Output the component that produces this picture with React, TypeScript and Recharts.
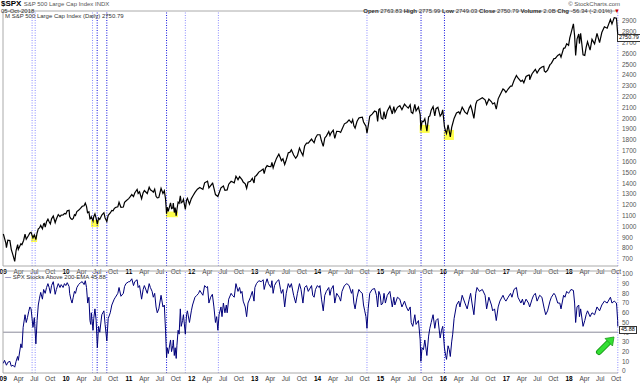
import { LineChart, Line, XAxis, YAxis, ReferenceLine, ReferenceArea } from "recharts";

// S&P 500 closes (date, close)
const spxCloses: [string, number][] = [
  ["2009-01-02", 931], ["2009-01-09", 890], ["2009-01-16", 850], ["2009-01-20", 805], ["2009-01-28", 874],
  ["2009-02-09", 870], ["2009-02-17", 789], ["2009-02-27", 735], ["2009-03-09", 677], ["2009-03-17", 778],
  ["2009-03-26", 832], ["2009-03-30", 788], ["2009-04-14", 841], ["2009-04-20", 832], ["2009-04-30", 873],
  ["2009-05-08", 929], ["2009-05-15", 882], ["2009-05-29", 919], ["2009-06-05", 940], ["2009-06-12", 946],
  ["2009-06-23", 895], ["2009-07-01", 923], ["2009-07-10", 879], ["2009-07-17", 940], ["2009-07-24", 979],
  ["2009-07-31", 987], ["2009-08-07", 1010], ["2009-08-17", 979], ["2009-08-24", 1025], ["2009-08-28", 1029],
  ["2009-09-02", 995], ["2009-09-10", 1044], ["2009-09-18", 1068], ["2009-09-25", 1044], ["2009-10-02", 1025],
  ["2009-10-09", 1071], ["2009-10-19", 1097], ["2009-10-30", 1036], ["2009-11-06", 1069], ["2009-11-17", 1110],
  ["2009-11-27", 1091], ["2009-12-04", 1105], ["2009-12-15", 1108], ["2009-12-23", 1120], ["2009-12-31", 1115],
  ["2010-01-08", 1145], ["2010-01-19", 1150], ["2010-01-22", 1092], ["2010-01-29", 1074], ["2010-02-05", 1066],
  ["2010-02-12", 1075], ["2010-02-19", 1109], ["2010-02-25", 1102], ["2010-03-05", 1138], ["2010-03-15", 1150],
  ["2010-03-26", 1167], ["2010-04-05", 1187], ["2010-04-16", 1192], ["2010-04-23", 1217], ["2010-04-30", 1187],
  ["2010-05-06", 1128], ["2010-05-14", 1136], ["2010-05-20", 1071], ["2010-05-25", 1074], ["2010-05-28", 1089],
  ["2010-06-07", 1050], ["2010-06-11", 1091], ["2010-06-18", 1117], ["2010-06-25", 1076], ["2010-07-02", 1022],
  ["2010-07-09", 1078], ["2010-07-16", 1065], ["2010-07-28", 1106], ["2010-08-09", 1128], ["2010-08-16", 1079],
  ["2010-08-26", 1047], ["2010-09-03", 1104], ["2010-09-15", 1125], ["2010-09-24", 1148], ["2010-10-01", 1146],
  ["2010-10-08", 1165], ["2010-10-15", 1176], ["2010-10-29", 1183], ["2010-11-05", 1225], ["2010-11-16", 1178],
  ["2010-11-30", 1180], ["2010-12-07", 1223], ["2010-12-15", 1236], ["2010-12-31", 1258],
  ["2011-01-07", 1271], ["2011-01-18", 1295], ["2011-01-28", 1276], ["2011-02-04", 1310], ["2011-02-18", 1343],
  ["2011-02-24", 1306], ["2011-03-04", 1321], ["2011-03-16", 1257], ["2011-03-25", 1313], ["2011-04-01", 1332],
  ["2011-04-18", 1305], ["2011-04-29", 1364], ["2011-05-06", 1340], ["2011-05-16", 1329], ["2011-05-23", 1317],
  ["2011-05-31", 1345], ["2011-06-08", 1279], ["2011-06-15", 1265], ["2011-06-24", 1268], ["2011-07-07", 1353],
  ["2011-07-18", 1305], ["2011-07-26", 1331], ["2011-08-02", 1254], ["2011-08-08", 1119], ["2011-08-12", 1178],
  ["2011-08-18", 1140], ["2011-08-31", 1219], ["2011-09-06", 1166], ["2011-09-13", 1172], ["2011-09-16", 1216],
  ["2011-09-22", 1129], ["2011-09-27", 1175], ["2011-10-03", 1099], ["2011-10-07", 1155], ["2011-10-14", 1225],
  ["2011-10-20", 1215], ["2011-10-27", 1284], ["2011-11-01", 1218], ["2011-11-09", 1229], ["2011-11-14", 1251],
  ["2011-11-25", 1158], ["2011-12-02", 1244], ["2011-12-07", 1261], ["2011-12-19", 1206], ["2011-12-30", 1258],
  ["2012-01-06", 1278], ["2012-01-20", 1315], ["2012-02-03", 1345], ["2012-02-17", 1361], ["2012-03-06", 1343],
  ["2012-03-16", 1404], ["2012-04-02", 1419], ["2012-04-10", 1358], ["2012-04-30", 1398], ["2012-05-01", 1405],
  ["2012-05-09", 1354], ["2012-05-18", 1295], ["2012-06-01", 1278], ["2012-06-19", 1357], ["2012-07-03", 1374],
  ["2012-07-12", 1334], ["2012-07-25", 1338], ["2012-08-03", 1391], ["2012-08-17", 1418], ["2012-09-04", 1404],
  ["2012-09-14", 1465], ["2012-09-26", 1433], ["2012-10-05", 1461], ["2012-10-19", 1433], ["2012-10-26", 1411],
  ["2012-11-07", 1394], ["2012-11-15", 1353], ["2012-11-23", 1409], ["2012-12-07", 1418], ["2012-12-18", 1446],
  ["2012-12-28", 1402],
  ["2013-01-02", 1462], ["2013-01-11", 1472], ["2013-01-25", 1503], ["2013-02-08", 1518], ["2013-02-19", 1531],
  ["2013-02-25", 1488], ["2013-03-05", 1540], ["2013-03-14", 1563], ["2013-03-22", 1556], ["2013-04-05", 1553],
  ["2013-04-11", 1593], ["2013-04-18", 1541], ["2013-04-26", 1582], ["2013-05-08", 1632], ["2013-05-21", 1669],
  ["2013-05-31", 1631], ["2013-06-05", 1608], ["2013-06-14", 1626], ["2013-06-24", 1573], ["2013-07-03", 1615],
  ["2013-07-15", 1682], ["2013-07-24", 1685], ["2013-08-02", 1709], ["2013-08-15", 1661], ["2013-08-27", 1631],
  ["2013-09-06", 1655], ["2013-09-18", 1725], ["2013-09-27", 1691], ["2013-10-08", 1656], ["2013-10-18", 1744],
  ["2013-10-29", 1771], ["2013-11-08", 1770], ["2013-11-27", 1808], ["2013-12-04", 1792], ["2013-12-12", 1775],
  ["2013-12-20", 1818], ["2013-12-31", 1848],
  ["2014-01-15", 1848], ["2014-01-24", 1790], ["2014-02-03", 1741], ["2014-02-12", 1819], ["2014-02-21", 1836],
  ["2014-03-07", 1878], ["2014-03-14", 1841], ["2014-03-21", 1866], ["2014-04-02", 1890], ["2014-04-11", 1815],
  ["2014-04-22", 1879], ["2014-05-07", 1878], ["2014-05-15", 1870], ["2014-05-23", 1900], ["2014-06-06", 1949],
  ["2014-06-20", 1962], ["2014-07-03", 1985], ["2014-07-17", 1958], ["2014-07-24", 1988], ["2014-07-31", 1931],
  ["2014-08-07", 1910], ["2014-08-18", 1971], ["2014-08-29", 2003], ["2014-09-05", 2007], ["2014-09-18", 2011],
  ["2014-09-25", 1966], ["2014-10-02", 1946], ["2014-10-09", 1928], ["2014-10-15", 1862], ["2014-10-22", 1927],
  ["2014-10-31", 2018], ["2014-11-14", 2039], ["2014-11-28", 2067], ["2014-12-09", 2059], ["2014-12-16", 1972],
  ["2014-12-23", 2082], ["2014-12-29", 2090],
  ["2015-01-06", 2003], ["2015-01-15", 1992], ["2015-01-22", 2063], ["2015-01-30", 1995], ["2015-02-10", 2068],
  ["2015-02-25", 2113], ["2015-03-11", 2040], ["2015-03-20", 2108], ["2015-03-26", 2056], ["2015-04-10", 2102],
  ["2015-04-24", 2117], ["2015-05-06", 2080], ["2015-05-21", 2131], ["2015-06-01", 2111], ["2015-06-12", 2094],
  ["2015-06-23", 2124], ["2015-06-29", 2057], ["2015-07-08", 2046], ["2015-07-20", 2128], ["2015-07-27", 2068],
  ["2015-08-10", 2104], ["2015-08-20", 2035], ["2015-08-24", 1893], ["2015-08-31", 1972], ["2015-09-08", 1969],
  ["2015-09-16", 1996], ["2015-09-28", 1881], ["2015-10-08", 2013], ["2015-10-15", 2023], ["2015-10-23", 2075],
  ["2015-11-03", 2109], ["2015-11-13", 2023], ["2015-11-20", 2089], ["2015-12-01", 2103], ["2015-12-14", 2021],
  ["2015-12-22", 2038], ["2015-12-29", 2078],
  ["2016-01-08", 1922], ["2016-01-15", 1880], ["2016-01-20", 1859], ["2016-01-29", 1940], ["2016-02-05", 1880],
  ["2016-02-11", 1829], ["2016-02-19", 1917], ["2016-02-25", 1952], ["2016-03-04", 1999], ["2016-03-18", 2050],
  ["2016-03-31", 2060], ["2016-04-07", 2041], ["2016-04-20", 2102], ["2016-05-06", 2057], ["2016-05-19", 2040],
  ["2016-05-31", 2097], ["2016-06-08", 2119], ["2016-06-16", 2077], ["2016-06-27", 2000], ["2016-07-08", 2130],
  ["2016-07-15", 2162], ["2016-07-29", 2174], ["2016-08-15", 2190], ["2016-08-31", 2171], ["2016-09-09", 2128],
  ["2016-09-22", 2177], ["2016-10-07", 2153], ["2016-10-14", 2133], ["2016-10-25", 2143], ["2016-11-04", 2085],
  ["2016-11-15", 2180], ["2016-11-25", 2213], ["2016-12-13", 2271], ["2016-12-22", 2260], ["2016-12-30", 2239],
  ["2017-01-12", 2271], ["2017-01-26", 2298], ["2017-02-03", 2297], ["2017-02-15", 2349], ["2017-03-01", 2396],
  ["2017-03-10", 2373], ["2017-03-27", 2341], ["2017-04-05", 2352], ["2017-04-13", 2329], ["2017-04-26", 2387],
  ["2017-05-10", 2399], ["2017-05-16", 2400], ["2017-05-17", 2357], ["2017-05-31", 2412], ["2017-06-09", 2432],
  ["2017-06-19", 2453], ["2017-06-29", 2419], ["2017-07-14", 2459], ["2017-07-27", 2475], ["2017-08-07", 2480],
  ["2017-08-10", 2438], ["2017-08-18", 2426], ["2017-08-29", 2446], ["2017-09-12", 2496], ["2017-09-20", 2508],
  ["2017-10-05", 2552], ["2017-10-13", 2553], ["2017-10-27", 2581], ["2017-11-08", 2594], ["2017-11-15", 2565],
  ["2017-11-30", 2647], ["2017-12-08", 2651], ["2017-12-18", 2690], ["2017-12-29", 2674],
  ["2018-01-05", 2743], ["2018-01-12", 2786], ["2018-01-26", 2873], ["2018-02-02", 2762], ["2018-02-08", 2581],
  ["2018-02-16", 2732], ["2018-02-26", 2780], ["2018-03-02", 2691], ["2018-03-09", 2786], ["2018-03-23", 2588],
  ["2018-04-02", 2582], ["2018-04-10", 2656], ["2018-04-18", 2708], ["2018-05-03", 2630], ["2018-05-14", 2730],
  ["2018-05-29", 2689], ["2018-06-12", 2786], ["2018-06-27", 2700], ["2018-07-10", 2793], ["2018-07-25", 2846],
  ["2018-08-10", 2833], ["2018-08-29", 2914], ["2018-09-07", 2872], ["2018-09-20", 2931], ["2018-10-03", 2926],
  ["2018-10-05", 2885], ["2018-10-10", 2785], ["2018-10-11", 2751],
];

// % of S&P 500 stocks above their 200-day EMA, lower panel
const breadth: [string, number][] = [
  ["2009-01-02", 8], ["2009-01-09", 11], ["2009-01-20", 6], ["2009-01-28", 9], ["2009-02-09", 10],
  ["2009-02-17", 5], ["2009-02-27", 6], ["2009-03-09", 4], ["2009-03-17", 10], ["2009-03-26", 15],
  ["2009-03-30", 11], ["2009-04-14", 28], ["2009-04-20", 24], ["2009-04-27", 45], ["2009-05-08", 58],
  ["2009-05-15", 50], ["2009-05-22", 55], ["2009-05-29", 61], ["2009-06-05", 66], ["2009-06-12", 64],
  ["2009-06-23", 45], ["2009-07-01", 55], ["2009-07-10", 28], ["2009-07-17", 52], ["2009-07-24", 68],
  ["2009-07-31", 75], ["2009-08-07", 81], ["2009-08-17", 74], ["2009-08-24", 84], ["2009-09-02", 80],
  ["2009-09-10", 86], ["2009-09-18", 90], ["2009-09-25", 86], ["2009-10-02", 80], ["2009-10-09", 88],
  ["2009-10-19", 92], ["2009-10-30", 79], ["2009-11-06", 84], ["2009-11-17", 90], ["2009-11-27", 86],
  ["2009-12-04", 89], ["2009-12-15", 86], ["2009-12-23", 90], ["2009-12-31", 88],
  ["2010-01-08", 91], ["2010-01-19", 87], ["2010-01-22", 80], ["2010-01-29", 74], ["2010-02-05", 70],
  ["2010-02-12", 76], ["2010-02-19", 82], ["2010-02-25", 80], ["2010-03-05", 86], ["2010-03-15", 89],
  ["2010-03-26", 91], ["2010-04-05", 92], ["2010-04-16", 89], ["2010-04-23", 93], ["2010-04-30", 86],
  ["2010-05-07", 70], ["2010-05-14", 76], ["2010-05-20", 52], ["2010-05-25", 48], ["2010-05-28", 60],
  ["2010-06-07", 42], ["2010-06-11", 54], ["2010-06-18", 64], ["2010-06-25", 52], ["2010-07-02", 24],
  ["2010-07-09", 46], ["2010-07-16", 40], ["2010-07-28", 58], ["2010-08-09", 62], ["2010-08-16", 48],
  ["2010-08-26", 31], ["2010-09-03", 54], ["2010-09-15", 60], ["2010-09-24", 68], ["2010-10-08", 74],
  ["2010-10-15", 76], ["2010-10-29", 80], ["2010-11-05", 86], ["2010-11-16", 77], ["2010-11-30", 80],
  ["2010-12-07", 87], ["2010-12-15", 90], ["2010-12-31", 92],
  ["2011-01-07", 92], ["2011-01-18", 95], ["2011-01-28", 88], ["2011-02-04", 92], ["2011-02-18", 94],
  ["2011-02-24", 86], ["2011-03-04", 88], ["2011-03-16", 74], ["2011-03-25", 84], ["2011-04-01", 88],
  ["2011-04-18", 80], ["2011-04-29", 90], ["2011-05-06", 86], ["2011-05-16", 82], ["2011-05-23", 76],
  ["2011-05-31", 80], ["2011-06-08", 66], ["2011-06-15", 60], ["2011-06-24", 64], ["2011-07-07", 78],
  ["2011-07-18", 66], ["2011-07-26", 68], ["2011-08-02", 42], ["2011-08-08", 14], ["2011-08-12", 24],
  ["2011-08-18", 18], ["2011-08-31", 32], ["2011-09-06", 20], ["2011-09-13", 26], ["2011-09-16", 32],
  ["2011-09-22", 16], ["2011-09-27", 24], ["2011-10-03", 13], ["2011-10-07", 26], ["2011-10-14", 42],
  ["2011-10-20", 38], ["2011-10-27", 64], ["2011-11-01", 46], ["2011-11-09", 52], ["2011-11-14", 58],
  ["2011-11-25", 38], ["2011-12-02", 58], ["2011-12-07", 62], ["2011-12-19", 50], ["2011-12-30", 62],
  ["2012-01-06", 68], ["2012-01-20", 76], ["2012-01-31", 78], ["2012-02-10", 80], ["2012-02-17", 83],
  ["2012-03-06", 78], ["2012-03-16", 88], ["2012-03-26", 86], ["2012-04-02", 87], ["2012-04-10", 70],
  ["2012-04-20", 76], ["2012-04-30", 79], ["2012-05-09", 66], ["2012-05-18", 50], ["2012-05-25", 56],
  ["2012-06-01", 42], ["2012-06-08", 58], ["2012-06-19", 66], ["2012-06-25", 56], ["2012-07-03", 70],
  ["2012-07-12", 60], ["2012-07-20", 68], ["2012-07-25", 60], ["2012-08-03", 74], ["2012-08-17", 80],
  ["2012-08-24", 78], ["2012-09-04", 76], ["2012-09-14", 90], ["2012-09-26", 82], ["2012-10-05", 86],
  ["2012-10-12", 80], ["2012-10-19", 82], ["2012-10-26", 72], ["2012-11-07", 66], ["2012-11-15", 56],
  ["2012-11-23", 70], ["2012-12-07", 76], ["2012-12-18", 82], ["2012-12-28", 72],
  ["2013-01-02", 86], ["2013-01-11", 90], ["2013-01-25", 93], ["2013-02-08", 92], ["2013-02-19", 94],
  ["2013-02-25", 84], ["2013-03-05", 90], ["2013-03-14", 95], ["2013-03-22", 90], ["2013-04-05", 86],
  ["2013-04-11", 93], ["2013-04-18", 80], ["2013-04-26", 88], ["2013-05-08", 92], ["2013-05-21", 94],
  ["2013-05-31", 84], ["2013-06-05", 80], ["2013-06-14", 84], ["2013-06-24", 66], ["2013-07-03", 80],
  ["2013-07-15", 90], ["2013-07-24", 86], ["2013-08-02", 90], ["2013-08-15", 78], ["2013-08-27", 70],
  ["2013-09-06", 80], ["2013-09-18", 90], ["2013-09-27", 84], ["2013-10-08", 70], ["2013-10-18", 86],
  ["2013-10-29", 88], ["2013-11-08", 82], ["2013-11-27", 88], ["2013-12-04", 78], ["2013-12-12", 76],
  ["2013-12-20", 84], ["2013-12-31", 88],
  ["2014-01-10", 86], ["2014-01-15", 88], ["2014-01-24", 74], ["2014-02-03", 62], ["2014-02-12", 78],
  ["2014-02-21", 82], ["2014-03-07", 86], ["2014-03-14", 78], ["2014-03-21", 84], ["2014-04-02", 88],
  ["2014-04-11", 70], ["2014-04-22", 80], ["2014-05-07", 76], ["2014-05-15", 72], ["2014-05-23", 82],
  ["2014-06-06", 88], ["2014-06-20", 90], ["2014-07-03", 88], ["2014-07-17", 80], ["2014-07-24", 84],
  ["2014-07-31", 70], ["2014-08-07", 64], ["2014-08-18", 76], ["2014-08-29", 84], ["2014-09-05", 82],
  ["2014-09-18", 80], ["2014-09-25", 68], ["2014-10-02", 62], ["2014-10-09", 56], ["2014-10-15", 44],
  ["2014-10-22", 64], ["2014-10-31", 80], ["2014-11-14", 84], ["2014-11-28", 85], ["2014-12-09", 78],
  ["2014-12-16", 66], ["2014-12-23", 82], ["2014-12-31", 78],
  ["2015-01-06", 68], ["2015-01-15", 70], ["2015-01-22", 80], ["2015-01-30", 70], ["2015-02-10", 78],
  ["2015-02-25", 82], ["2015-03-11", 66], ["2015-03-20", 76], ["2015-03-26", 68], ["2015-04-10", 76],
  ["2015-04-24", 74], ["2015-05-06", 66], ["2015-05-21", 72], ["2015-06-01", 66], ["2015-06-12", 62],
  ["2015-06-23", 66], ["2015-06-29", 50], ["2015-07-08", 46], ["2015-07-20", 58], ["2015-07-27", 48],
  ["2015-08-10", 52], ["2015-08-20", 32], ["2015-08-24", 10], ["2015-08-31", 24], ["2015-09-08", 22],
  ["2015-09-16", 32], ["2015-09-28", 16], ["2015-10-08", 36], ["2015-10-15", 44], ["2015-10-23", 50],
  ["2015-11-03", 58], ["2015-11-13", 44], ["2015-11-20", 52], ["2015-12-01", 54], ["2015-12-14", 34],
  ["2015-12-22", 42], ["2015-12-29", 46],
  ["2016-01-08", 24], ["2016-01-15", 16], ["2016-01-20", 12], ["2016-01-29", 26], ["2016-02-05", 22],
  ["2016-02-11", 15], ["2016-02-19", 30], ["2016-02-25", 38], ["2016-03-04", 54], ["2016-03-18", 68],
  ["2016-03-31", 72], ["2016-04-07", 66], ["2016-04-20", 78], ["2016-05-06", 70], ["2016-05-19", 64],
  ["2016-05-31", 74], ["2016-06-08", 80], ["2016-06-16", 70], ["2016-06-27", 58], ["2016-07-08", 80],
  ["2016-07-15", 86], ["2016-07-29", 82], ["2016-08-15", 84], ["2016-08-31", 78], ["2016-09-09", 64],
  ["2016-09-22", 76], ["2016-10-07", 68], ["2016-10-14", 62], ["2016-10-25", 64], ["2016-11-04", 52],
  ["2016-11-15", 66], ["2016-11-25", 72], ["2016-12-13", 78], ["2016-12-22", 74], ["2016-12-30", 72],
  ["2017-01-12", 76], ["2017-01-26", 80], ["2017-02-03", 76], ["2017-02-15", 84], ["2017-03-01", 86],
  ["2017-03-10", 76], ["2017-03-27", 70], ["2017-04-05", 74], ["2017-04-13", 68], ["2017-04-26", 74],
  ["2017-05-10", 70], ["2017-05-17", 66], ["2017-05-31", 74], ["2017-06-09", 78], ["2017-06-19", 80],
  ["2017-06-29", 72], ["2017-07-14", 78], ["2017-07-27", 76], ["2017-08-10", 64], ["2017-08-18", 58],
  ["2017-08-29", 62], ["2017-09-12", 72], ["2017-09-20", 76], ["2017-10-05", 80], ["2017-10-13", 78],
  ["2017-10-27", 70], ["2017-11-08", 70], ["2017-11-15", 64], ["2017-11-30", 78], ["2017-12-08", 76],
  ["2017-12-18", 82], ["2017-12-29", 80],
  ["2018-01-05", 82], ["2018-01-12", 84], ["2018-01-26", 83], ["2018-02-02", 70], ["2018-02-08", 50],
  ["2018-02-16", 66], ["2018-02-26", 68], ["2018-03-02", 56], ["2018-03-09", 64], ["2018-03-23", 46],
  ["2018-04-02", 52], ["2018-04-10", 58], ["2018-04-18", 62], ["2018-05-03", 56], ["2018-05-14", 60],
  ["2018-05-29", 58], ["2018-06-12", 66], ["2018-06-27", 62], ["2018-07-10", 68], ["2018-07-25", 72],
  ["2018-08-10", 70], ["2018-08-29", 76], ["2018-09-07", 70], ["2018-09-20", 72], ["2018-10-03", 70],
  ["2018-10-05", 66], ["2018-10-10", 52], ["2018-10-11", 45.88],
];

const yearLabels = ["09", "10", "11", "12", "13", "14", "15", "16", "17", "18"];
const quarterStarts = ["01", "04", "07", "10"];
const MONTHS = ["Jan", "Feb", "Mar", "Apr", "May", "Jun", "Jul", "Aug", "Sep", "Oct", "Nov", "Dec"];
const priceTicks = [700, 800, 900, 1000, 1100, 1200, 1300, 1400, 1500, 1600, 1700, 1800, 1900, 2000, 2100, 2200, 2300, 2400, 2500, 2600, 2700, 2800, 2900];
const breadthTicks = [0, 10, 20, 30, 40, 50, 60, 70, 80, 90, 100];

// dotted vertical markers
const lightMarkers = ["2009-06-18", "2009-07-06", "2010-06-04", "2011-11-25", "2012-06-04", "2014-10-15", "2018-10-11"];
const darkMarkers = ["2010-07-01", "2010-08-26", "2011-08-08", "2015-08-25", "2016-01-08"];

// yellow highlights around the price lows
const lowZones = [
  { from: "2009-06-12", to: "2009-07-17", low: 857, high: 922 },
  { from: "2010-05-26", to: "2010-07-11", low: 996, high: 1060 },
  { from: "2011-08-04", to: "2011-10-13", low: 1086, high: 1138 },
  { from: "2015-08-17", to: "2015-10-14", low: 1865, high: 1939 },
  { from: "2016-01-04", to: "2016-03-03", low: 1800, high: 1893 },
];

const t = (s: string) => Date.parse(s + "T00:00:00Z");
const START = t("2008-12-31");
const END = t("2018-10-12");
const FONT = "'Liberation Sans', Arial, sans-serif";

const priceData = spxCloses.map(([d, v]) => ({ t: t(d), v })).sort((a, b) => a.t - b.t);
const breadthData = breadth.map(([d, v]) => ({ t: t(d), v })).sort((a, b) => a.t - b.t);
const dateTicks = yearLabels
  .flatMap((yy) => quarterStarts.map((mm) => t(`20${yy}-${mm}-01`)))
  .filter((v) => v <= END);

function DateTick(props: any) {
  const { x, y, payload } = props;
  const d = new Date(payload.value);
  const m = d.getUTCMonth();
  const isYear = m === 0;
  return (
    <text
      x={x}
      y={y + 6}
      textAnchor="middle"
      fontSize={6.5}
      fontFamily={FONT}
      fontWeight={isYear ? 700 : 400}
      fill={isYear ? "#000" : "#444"}
    >
      {isYear ? String(d.getUTCFullYear()).slice(2) : MONTHS[m]}
    </text>
  );
}

const yTick = { fontSize: 6.5, fill: "#555", fontFamily: FONT };

function markers(top: number) {
  return [
    ...lightMarkers.map((d) => (
      <ReferenceLine key={"l" + d} x={t(d)} stroke="#8c8cff" strokeDasharray="1 1.5" strokeWidth={1} />
    )),
    ...darkMarkers.map((d) => (
      <ReferenceLine key={"d" + d} x={t(d)} stroke="#1010e0" strokeDasharray="1 1.5" strokeWidth={1} />
    )),
    <ReferenceLine key="left" x={START} stroke="#aaa" />,
    <ReferenceLine key="top" y={top} stroke="#aaa" />,
  ];
}

const small = { position: "absolute" as const, fontFamily: FONT, whiteSpace: "nowrap" as const, lineHeight: 1 };

export default function App() {
  return (
    <div style={{ position: "absolute", left: 0, top: 0, width: 640, height: 383, background: "#fff", overflow: "hidden" }}>
      {/* upper panel: price */}
      <div style={{ position: "absolute", left: 0, top: 0 }}>
        <LineChart width={640} height={276} data={priceData} margin={{ top: 11, right: 0, left: 3, bottom: 0 }}>
          <XAxis
            dataKey="t"
            type="number"
            domain={[START, END]}
            ticks={dateTicks}
            tick={<DateTick />}
            tickLine={false}
            tickSize={0}
            height={10}
            axisLine={{ stroke: "#aaa" }}
            interval={0}
          />
          <YAxis
            orientation="right"
            domain={[635, 2992]}
            ticks={priceTicks}
            tick={yTick}
            tickLine={false}
            axisLine={false}
            tickSize={0}
            tickMargin={4}
            width={22}
            interval={0}
          />
          {lowZones.map((z) => (
            <ReferenceArea
              key={z.from}
              x1={t(z.from)}
              x2={t(z.to)}
              y1={z.low}
              y2={z.high}
              fill="#ffff00"
              fillOpacity={0.7}
              stroke="none"
            />
          ))}
          {markers(2992)}
          <Line dataKey="v" stroke="#000" strokeWidth={1.2} dot={false} isAnimationActive={false} type="linear" />
        </LineChart>
      </div>

      {/* lower panel: breadth */}
      <div style={{ position: "absolute", left: 0, top: 262 }}>
        <LineChart width={640} height={121} data={breadthData} margin={{ top: 9, right: 0, left: 3, bottom: 0 }}>
          <XAxis
            dataKey="t"
            type="number"
            domain={[START, END]}
            ticks={dateTicks}
            tick={<DateTick />}
            tickLine={false}
            tickSize={0}
            height={10}
            axisLine={{ stroke: "#aaa" }}
            interval={0}
          />
          <YAxis
            orientation="right"
            domain={[-2, 103]}
            ticks={breadthTicks}
            tick={yTick}
            tickLine={false}
            axisLine={false}
            tickSize={0}
            tickMargin={4}
            width={22}
            interval={0}
          />
          <ReferenceLine y={40} stroke="#8a8a9a" strokeWidth={1} />
          {markers(103)}
          <Line dataKey="v" stroke="#00007a" strokeWidth={1} dot={false} isAnimationActive={false} type="linear" />
        </LineChart>
      </div>

      {/* header texts */}
      <div style={{ ...small, left: 1, top: 0, fontSize: 8 }}>
        <b>$SPX</b> <span style={{ fontSize: 6, color: "#555" }}>S&amp;P 500 Large Cap Index INDX</span>
      </div>
      <div style={{ ...small, left: 1, top: 8, fontSize: 6, color: "#333" }}>05-Oct-2018</div>
      <div style={{ ...small, right: 20, top: 1, fontSize: 6, color: "#555" }}>© StockCharts.com</div>
      <div style={{ ...small, right: 20, top: 8, fontSize: 6, color: "#333" }}>
        <b>Open</b> 2763.83 <b>High</b> 2775.99 <b>Low</b> 2749.03 <b>Close</b> 2750.79 <b>Volume</b> 2.0B{" "}
        <b>Chg</b> -56.34 (-2.01%) <span style={{ color: "#c00" }}>▼</span>
      </div>
      <div style={{ ...small, left: 5, top: 13, fontSize: 6, color: "#333" }}>
        M S&amp;P 500 Large Cap Index (Daily) 2750.79
      </div>
      <div style={{ ...small, left: 5, top: 274, fontSize: 6, color: "#333" }}>
        <span style={{ color: "#00007a" }}>—</span> SPX Stocks Above 200-EMA 45.88
      </div>

      {/* last-value boxes */}
      <div style={{ ...small, left: 617, top: 34, fontSize: 5.5, padding: "0 1px", border: "1px solid #333", background: "#fff" }}>
        2750.79
      </div>
      <div style={{ ...small, left: 619, top: 326, fontSize: 5.5, padding: "0 1px", border: "1px solid #333", background: "#fff" }}>
        45.88
      </div>

      {/* green arrow */}
      <svg width={640} height={383} style={{ position: "absolute", left: 0, top: 0, pointerEvents: "none" }}>
        <line x1={599} y1={352} x2={609} y2={342} stroke="#1a9a1a" strokeWidth={6} strokeLinecap="round" />
        <line x1={599} y1={352} x2={609} y2={342} stroke="#33e033" strokeWidth={4} strokeLinecap="round" />
        <polygon points="614,337 612.5,346 605,338.5" fill="#33e033" stroke="#1a9a1a" strokeWidth={0.8} />
      </svg>
    </div>
  );
}
